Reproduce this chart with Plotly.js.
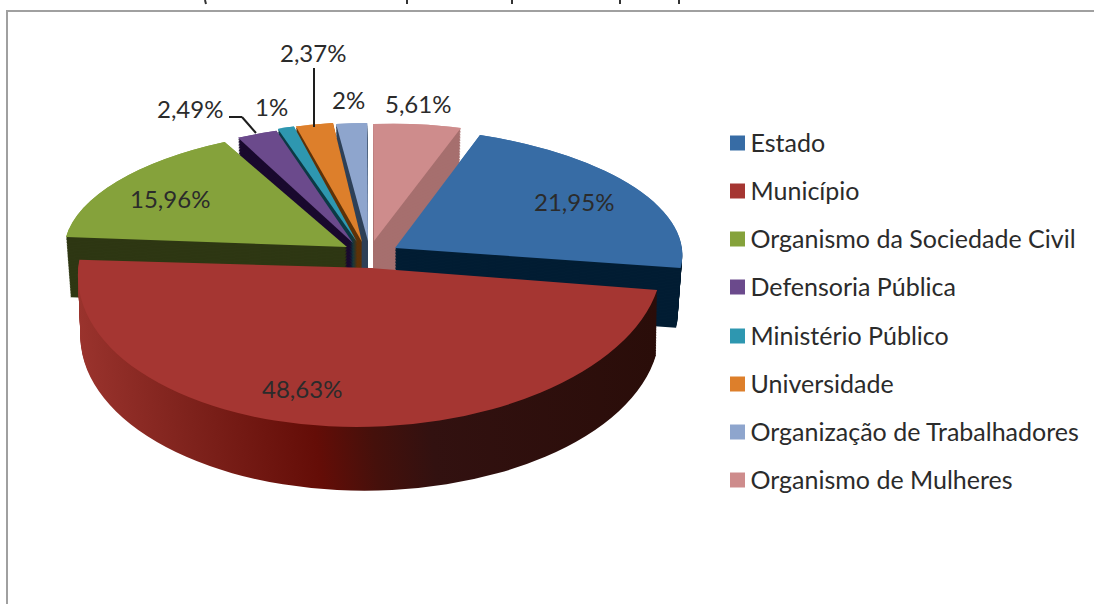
<!DOCTYPE html>
<html>
<head>
<meta charset="utf-8">
<script src="https://cdn.plot.ly/plotly-3.0.1.min.js"></script>
<style>html,body{margin:0;padding:0;background:#fff}#chart{width:1094px;height:604px}</style>
</head>
<body>
<div id="chart"></div>
<script>
// ---- data ----
var categories = ['Estado','Município','Organismo da Sociedade Civil','Defensoria Pública','Ministério Público','Universidade','Organização de Trabalhadores','Organismo de Mulheres'];
var values = [21.95,48.63,15.96,2.49,1,2.37,2,5.61];
// ---- style ----
var topColors  = ['#376CA5','#A53632','#85A23B','#6B4A8C','#2E97B0','#DD7F2B','#8EA5CD','#CE8C8C'];
var wallColors = ['#021D33','#5A1410','#2E3713','#1A0A2E','#0C3A45','#5E3208','#2F4058','#A66F6E'];
var frontIndex = 1;
// placement of each exploded slice on the tilted view: apex x,y and projection terms
var view = [
  {x:395,y:248,a:287,b:14,c:1.2,d:120.6},
  {x:370,y:268,a:292,b:-8,c:-3,d:159},
  {x:347,y:247,a:282.7,b:-14.2,c:1.5,d:118.6},
  {x:353,y:243,a:263,b:-12,c:3,d:118},
  {x:357,y:242,a:265,b:-10,c:0,d:120},
  {x:362,y:242,a:254,b:-3.7,c:0,d:120},
  {x:368,y:241,a:248,b:0,c:0,d:118},
  {x:374,y:241,a:254,b:0,c:-9,d:117}
];
var backDepth = 60, frontDepth = 65, layers = 40, backShrink = 0.016, frontShrink = 0.008;
var labelPos = [[574,201.5],[302,388.5],[170,198.5],[190,108.5],[271,106.5],[313,52.5],[348,99.5],[418,103.5]];
var legendRows = [142,190,238,286,335,383,431,479];
var W = 1094, H = 604;
function px(x){return x/W;}
function py(y){return 1-y/H;}

function pie(colors, showlegend){
  return {type:'pie', labels:categories, values:values, sort:false, direction:'clockwise', rotation:20,
    textinfo:'none', hoverinfo:showlegend?'label+percent':'skip', showlegend:showlegend,
    domain:{x:[0,1],y:[0,1]}, marker:{colors:colors, line:{width:0}}};
}
function only(colors, front){
  return colors.map(function(c,i){return (i===frontIndex)===front ? c : 'rgba(0,0,0,0)';});
}
var traces = [pie(topColors,true)], meta = [{t:0,front:false}];
[false,true].forEach(function(front){
  for(var k=layers;k>=1;k--){ traces.push(pie(only(wallColors,front),false)); meta.push({t:k/layers,wall:front,front:front}); }
  traces.push(pie(only(topColors,front),false)); meta.push({t:0,front:front});
});

var annotations = values.map(function(v,i){
  return {xref:'paper',yref:'paper',x:px(labelPos[i][0]),y:py(labelPos[i][1]),xanchor:'center',yanchor:'middle',
    showarrow:false,text:String(v).replace('.',',')+'%',font:{family:'Lato, sans-serif',size:24,color:'#2B2B2B'}};
});
function seg(x0,y0,x1,y1,color,width){
  return {type:'line',xref:'paper',yref:'paper',layer:'above',x0:px(x0),y0:py(y0),x1:px(x1),y1:py(y1),line:{color:color,width:width}};
}
var shapes = [
  seg(7,11,7,604,'#A0A0A0',2), seg(6,11,1094,11,'#A0A0A0',2),
  seg(314,68,314,127,'#1E1E1E',2),
  seg(229,117,242,117,'#1E1E1E',2), seg(242,117,256,133,'#1E1E1E',2),
  seg(205,0,206,4,'#333',2), seg(407,0,407,4,'#333',2), seg(512,0,512,4,'#333',2), seg(620,0,620,4,'#333',2), seg(679,0,679,4,'#333',2)
];
var layout = {width:W,height:H,margin:{l:0,r:0,t:0,b:0,autoexpand:false},paper_bgcolor:'#fff',
  font:{family:'Lato, sans-serif',color:'#2B2B2B'},annotations:annotations,shapes:shapes,showlegend:true,
  legend:{x:px(717.5),y:1,xanchor:'left',yanchor:'top',bgcolor:'rgba(0,0,0,0)',font:{family:'Lato, sans-serif',size:25,color:'#2B2B2B'},traceorder:'normal'}};

Plotly.newPlot('chart',traces,layout,{displayModeBar:false}).then(function(gd){
  // gradient for the curved wall of the front slice
  var svg = gd.querySelector('svg.main-svg');
  var ns = 'http://www.w3.org/2000/svg';
  var defs = svg.querySelector('defs') || svg.insertBefore(document.createElementNS(ns,'defs'),svg.firstChild);
  var g = document.createElementNS(ns,'linearGradient'); g.setAttribute('id','wallFront');
  [[0,'#9A332D'],[0.2,'#7E221C'],[0.42,'#640D07'],[0.52,'#45100B'],[0.62,'#321110'],[1,'#2A0D09']].forEach(function(s){
    var st = document.createElementNS(ns,'stop'); st.setAttribute('offset',s[0]); st.setAttribute('stop-color',s[1]); g.appendChild(st);
  });
  defs.appendChild(g);
  // tilt every slice layer
  gd.querySelectorAll('.pielayer .trace').forEach(function(tr,i){
    var cd = gd.calcdata[i][0], m = meta[i];
    var depth = m.t*(m.front ? frontDepth : backDepth);
    var sc = (1-(m.front ? frontShrink : backShrink)*m.t)/cd.r;
    tr.querySelectorAll('.slice').forEach(function(sl,j){
      var v = view[j], A=v.a*sc, B=v.b*sc*(m.front ? 1-m.t : 1), C=v.c*sc, D=v.d*sc;
      var E=v.x-A*cd.cx-B*cd.cy, F=v.y+depth-C*cd.cx-D*cd.cy;
      var p = sl.querySelector('path.surface');
      p.setAttribute('transform','matrix('+[A,C,B,D,E,F].join(',')+')');
      if(m.wall && j===frontIndex) p.style.fill='url(#wallFront)';
    });
  });
  // legend rows at the reference's spacing
  var lg = gd.querySelector('.legend');
  lg.setAttribute('transform','translate(717.5,0)');
  var box = lg.querySelector('.scrollbox'); box.removeAttribute('clip-path'); box.setAttribute('transform','translate(0,0)');
  lg.querySelectorAll('.traces').forEach(function(t,i){
    t.setAttribute('transform','translate(0,'+legendRows[i]+')');
    var s = t.querySelector('.legendpie'); if(s) s.setAttribute('transform','translate(20,1) scale(1.25)');
    var tx = t.querySelector('.legendtext'); if(tx) tx.setAttribute('x','33');
  });
});
</script>
</body>
</html>
